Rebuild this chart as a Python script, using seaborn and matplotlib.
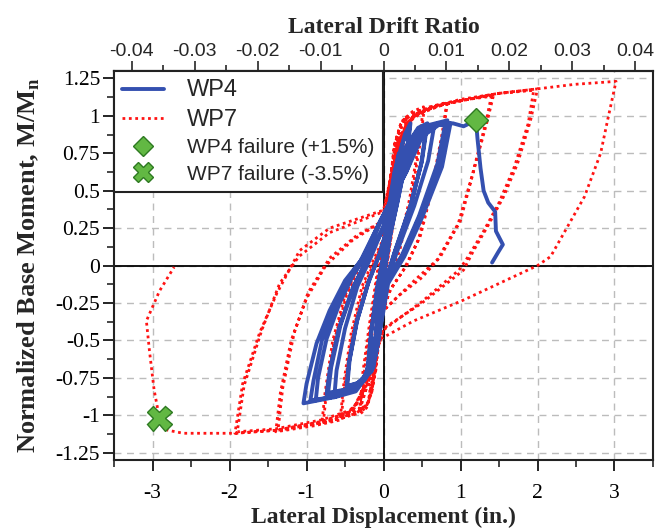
import matplotlib
matplotlib.use('Agg')
import pandas as pd
import matplotlib.pyplot as plt
import seaborn as sns
from matplotlib.lines import Line2D
from matplotlib.ticker import MultipleLocator

# eixos
disp_ticks = [-3, -2, -1, 0, 1, 2, 3]
moment_ticks = [-1.25, -1, -0.75, -0.5, -0.25, 0, 0.25, 0.5, 0.75, 1, 1.25]
drift_ticks = [-0.04, -0.03, -0.02, -0.01, 0, 0.01, 0.02, 0.03, 0.04]
wall_height = 81.75  # in. (drift = disp / altura)

# WP4 - laco histeretico (deslocamento em in., momento normalizado)
wp4_disp = [
    0.0, 0.05, 0.1, 0.06, 0.0, -0.05, -0.1, -0.06, 0.0,
    0.07, 0.14, 0.2, 0.16, 0.08, 0.0, -0.07, -0.14, -0.2, -0.16, -0.08, 0.0,
    0.08, 0.15, 0.21, 0.16, 0.08, 0.0, -0.08, -0.15, -0.21, -0.16, -0.08, 0.0,
    0.08, 0.18, 0.28, 0.35, 0.3, 0.18, 0.05, -0.02, -0.07, -0.18, -0.32, -0.48, -0.45, -0.35, -0.2, -0.05, 0.05,
    0.14, 0.25, 0.34, 0.29, 0.17, 0.04, -0.03, -0.08, -0.2, -0.33, -0.47, -0.44, -0.34, -0.19, -0.04, 0.05,
    0.15, 0.3, 0.45, 0.57, 0.5, 0.35, 0.15, 0.0, -0.06, -0.15, -0.4, -0.74, -0.7, -0.58, -0.4, -0.2, 0.0,
    0.15, 0.3, 0.45, 0.56, 0.49, 0.34, 0.14, -0.01, -0.07, -0.16, -0.42, -0.72, -0.68, -0.56, -0.38, -0.19, 0.0,
    0.17, 0.33, 0.5, 0.66, 0.58, 0.4, 0.18, 0.02, -0.05, -0.13, -0.36, -0.64, -0.61, -0.5, -0.34, -0.16, 0.0,
    0.2, 0.4, 0.6, 0.83, 0.74, 0.48, 0.26, 0.05, -0.02, -0.09, -0.22, -0.39, -0.65, -1.04,
    -1.0, -0.87, -0.7, -0.5, -0.3, -0.04,
    0.3, 0.48, 0.7, 0.87, 0.76, 0.5, 0.27, 0.06, -0.02, -0.1, -0.24, -0.42, -0.68, -0.95,
    -0.91, -0.8, -0.62, -0.45, -0.26, -0.04,
    0.28, 0.45, 0.65, 0.8, 0.7, 0.46, 0.24, 0.04, -0.03, -0.11, -0.26, -0.45, -0.7, -0.88,
    -0.85, -0.74, -0.57, -0.4, -0.22, -0.03,
    0.3, 0.5, 0.72, 0.9, 1.04, 1.2,
    1.22, 1.26, 1.3, 1.36, 1.45, 1.46, 1.55, 1.49, 1.41,
]
wp4_moment = [
    0.0, 0.25, 0.45, 0.25, 0.0, -0.25, -0.45, -0.25, 0.0,
    0.4, 0.62, 0.75, 0.5, 0.2, -0.08, -0.38, -0.6, -0.7, -0.45, -0.15, 0.06,
    0.4, 0.63, 0.74, 0.48, 0.18, -0.09, -0.4, -0.6, -0.69, -0.44, -0.14, 0.07,
    0.4, 0.7, 0.88, 0.95, 0.72, 0.42, 0.12, -0.15, -0.45, -0.7, -0.78, -0.81, -0.65, -0.38, -0.12, 0.08, 0.25,
    0.55, 0.82, 0.93, 0.7, 0.4, 0.1, -0.18, -0.47, -0.72, -0.79, -0.8, -0.63, -0.36, -0.1, 0.09, 0.26,
    0.55, 0.8, 0.92, 0.95, 0.7, 0.4, 0.1, -0.15, -0.45, -0.7, -0.82, -0.86, -0.7, -0.42, -0.15, 0.05, 0.25,
    0.55, 0.8, 0.91, 0.94, 0.68, 0.38, 0.08, -0.17, -0.47, -0.71, -0.82, -0.85, -0.68, -0.4, -0.13, 0.06, 0.26,
    0.57, 0.82, 0.92, 0.94, 0.7, 0.4, 0.1, -0.14, -0.42, -0.68, -0.84, -0.88, -0.7, -0.42, -0.14, 0.06, 0.26,
    0.6, 0.85, 0.94, 0.97, 0.68, 0.34, 0.08, -0.1, -0.34, -0.57, -0.74, -0.83, -0.88, -0.92,
    -0.79, -0.52, -0.3, -0.1, 0.03, 0.3,
    0.63, 0.88, 0.95, 0.95, 0.66, 0.32, 0.06, -0.12, -0.36, -0.6, -0.76, -0.84, -0.88, -0.9,
    -0.77, -0.5, -0.26, -0.08, 0.06, 0.3,
    0.62, 0.86, 0.94, 0.94, 0.68, 0.33, 0.07, -0.11, -0.35, -0.58, -0.75, -0.84, -0.88, -0.9,
    -0.75, -0.49, -0.25, -0.07, 0.07, 0.3,
    0.63, 0.86, 0.94, 0.95, 0.93, 0.97,
    0.85, 0.65, 0.5, 0.42, 0.36, 0.23, 0.14, 0.09, 0.02,
]

# WP7 - laco histeretico
wp7_disp = [
    0.0, 0.05, 0.1, 0.06, 0.0, -0.04, -0.08, -0.04, 0.0,
    0.06, 0.14, 0.2, 0.15, 0.08, 0.0, -0.06, -0.12, -0.18, -0.14, -0.07, 0.0,
    0.06, 0.14, 0.22, 0.3, 0.25, 0.16, 0.06, 0.0, -0.06, -0.14, -0.22, -0.3, -0.26, -0.17, -0.07, 0.0,
    0.07, 0.15, 0.22, 0.3, 0.24, 0.15, 0.05, -0.01, -0.07, -0.15, -0.23, -0.31, -0.27, -0.18, -0.08, 0.0,
    0.07, 0.15, 0.25, 0.38, 0.52, 0.46, 0.34, 0.2, 0.06, -0.02, -0.1, -0.2, -0.35, -0.55, -0.5, -0.4, -0.26, -0.1, 0.0,
    0.08, 0.17, 0.27, 0.4, 0.53, 0.47, 0.35, 0.21, 0.06, -0.03, -0.11, -0.21, -0.36, -0.56, -0.51, -0.42, -0.28, -0.12, 0.0,
    0.08, 0.18, 0.35, 0.6, 0.83, 0.78, 0.65, 0.48, 0.3, 0.1, -0.05, -0.15, -0.3, -0.55, -0.8,
    -0.76, -0.66, -0.5, -0.3, -0.1, 0.0,
    0.06, 0.15, 0.3, 0.55, 0.82, 0.76, 0.62, 0.45, 0.27, 0.08, -0.07, -0.17, -0.32, -0.55, -0.78,
    -0.74, -0.64, -0.48, -0.28, -0.1, 0.0,
    0.1, 0.22, 0.4, 0.8, 1.1, 1.43, 1.35, 1.17, 1.0, 0.74, 0.5, 0.2, 0.0, -0.15, -0.3, -0.55, -0.9, -1.4,
    -1.34, -1.2, -1.0, -0.75, -0.4, 0.0,
    0.1, 0.22, 0.4, 0.8, 1.1, 1.4, 1.33, 1.15, 0.97, 0.7, 0.4, 0.0, -0.15, -0.3, -0.55, -0.9, -1.37,
    -1.31, -1.16, -0.98, -0.7, -0.35, 0.0,
    0.12, 0.26, 0.4, 0.7, 1.0, 1.5, 2.0, 1.91, 1.74, 1.56, 1.35, 1.17, 1.04, 0.5, 0.0, -0.2, -0.4, -0.8, -1.4, -1.93,
    -1.83, -1.61, -1.39, -1.09, -0.7, 0.0,
    0.12, 0.26, 0.4, 0.7, 1.0, 1.5, 1.95, 1.88, 1.7, 1.5, 1.3, 1.1, 0.98, 0.5, 0.0, -0.2, -0.4, -0.8, -1.4, -1.9,
    -1.81, -1.58, -1.35, -1.1, -0.7, 0.0,
    0.12, 0.26, 0.4, 0.7, 1.0, 1.5, 2.0, 2.48, 3.02, 2.91, 2.82, 2.61, 2.17, 2.0, 1.04, 0.39, -0.04,
    -0.2, -0.4, -0.8, -1.4, -1.93, -2.3, -2.6, -2.8, -2.91, -2.98, -3.04, -3.08, -2.91, -2.72,
]
wp7_moment = [
    0.0, 0.3, 0.55, 0.3, 0.02, -0.3, -0.55, -0.3, 0.0,
    0.4, 0.7, 0.85, 0.6, 0.25, -0.05, -0.4, -0.7, -0.85, -0.6, -0.25, 0.05,
    0.45, 0.8, 0.94, 1.0, 0.78, 0.4, 0.05, -0.12, -0.5, -0.82, -0.95, -0.99, -0.75, -0.4, -0.05, 0.1,
    0.5, 0.82, 0.94, 0.99, 0.75, 0.38, 0.03, -0.15, -0.52, -0.84, -0.95, -0.98, -0.72, -0.38, -0.04, 0.12,
    0.5, 0.82, 0.97, 1.03, 1.06, 0.82, 0.45, 0.12, -0.08, -0.3, -0.7, -0.92, -0.99, -1.02, -0.78, -0.45, -0.15, 0.05, 0.17,
    0.5, 0.83, 0.97, 1.02, 1.05, 0.8, 0.42, 0.1, -0.1, -0.33, -0.72, -0.92, -0.99, -1.01, -0.76, -0.45, -0.14, 0.05, 0.18,
    0.5, 0.82, 0.98, 1.06, 1.09, 0.9, 0.55, 0.2, 0.0, -0.15, -0.35, -0.7, -0.95, -1.02, -1.05,
    -0.85, -0.5, -0.2, 0.02, 0.15, 0.22,
    0.42, 0.75, 0.95, 1.04, 1.08, 0.88, 0.5, 0.17, -0.02, -0.17, -0.4, -0.74, -0.96, -1.02, -1.04,
    -0.84, -0.5, -0.2, 0.03, 0.16, 0.24,
    0.55, 0.85, 1.0, 1.08, 1.11, 1.14, 0.97, 0.63, 0.3, 0.06, -0.08, -0.2, -0.3, -0.6, -0.9, -1.03, -1.07, -1.11,
    -0.85, -0.5, -0.22, 0.0, 0.17, 0.3,
    0.6, 0.87, 1.01, 1.08, 1.11, 1.13, 0.96, 0.6, 0.28, 0.04, -0.1, -0.3, -0.62, -0.9, -1.02, -1.06, -1.1,
    -0.82, -0.45, -0.18, 0.05, 0.2, 0.3,
    0.6, 0.86, 1.0, 1.07, 1.1, 1.15, 1.18, 0.97, 0.68, 0.46, 0.26, 0.1, -0.03, -0.25, -0.42, -0.75, -0.97, -1.04, -1.1, -1.12,
    -0.79, -0.45, -0.19, 0.1, 0.25, 0.37,
    0.65, 0.88, 1.01, 1.07, 1.1, 1.15, 1.17, 0.95, 0.66, 0.42, 0.23, 0.06, -0.03, -0.24, -0.43, -0.76, -0.96, -1.03, -1.09, -1.11,
    -0.8, -0.43, -0.12, 0.06, 0.22, 0.36,
    0.65, 0.88, 1.02, 1.07, 1.11, 1.15, 1.18, 1.21, 1.23, 0.97, 0.75, 0.46, 0.06, 0.0, -0.23, -0.37, -0.49,
    -0.78, -0.97, -1.05, -1.1, -1.12, -1.12, -1.12, -1.1, -1.02, -0.83, -0.57, -0.37, -0.17, -0.01,
]

wp4_fail_disp, wp4_fail_moment = 1.2, 0.97
wp7_fail_disp, wp7_fail_moment = -2.91, -1.02

blue = '#3450b0'
red = '#ff1414'
green = '#62b843'
dark_green = '#2e7a22'

sns.set_theme(style='ticks')
plt.rcParams['font.family'] = ['Liberation Serif', 'DejaVu Serif']
plt.rcParams['mathtext.fontset'] = 'custom'
plt.rcParams['mathtext.rm'] = 'Liberation Serif'
plt.rcParams['mathtext.bf'] = 'Liberation Serif:bold'
plt.rcParams['axes.unicode_minus'] = False

df4 = pd.DataFrame({'disp': wp4_disp, 'moment': wp4_moment})
df7 = pd.DataFrame({'disp': wp7_disp, 'moment': wp7_moment})

fig = plt.figure(figsize=(6.67, 5.29), dpi=100)
ax = fig.add_axes([0.171, 0.130, 0.808, 0.736])

sns.lineplot(data=df7, x='disp', y='moment', sort=False, estimator=None, ax=ax,
             color=red, linewidth=2.0, linestyle=(0, (1, 1.3)), zorder=3)
sns.lineplot(data=df4, x='disp', y='moment', sort=False, estimator=None, ax=ax,
             color=blue, linewidth=2.8, zorder=4)

ax.plot([wp4_fail_disp], [wp4_fail_moment], marker='D', markersize=12,
        color=green, markeredgecolor=dark_green, markeredgewidth=1, zorder=6)
ax.plot([wp7_fail_disp], [wp7_fail_moment], marker='X', markersize=18,
        color=green, markeredgecolor=dark_green, markeredgewidth=1, zorder=6)

ax.axhline(0, color='black', lw=1.3, zorder=2)
ax.axvline(0, color='black', lw=1.3, zorder=2)

ax.set_xlim(-3.5, 3.5)
ax.set_ylim(-1.3, 1.3)
ax.set_xticks(disp_ticks)
ax.set_xticklabels([f'{v:g}' for v in disp_ticks])
ax.set_yticks(moment_ticks)
ax.set_yticklabels([f'{v:g}' for v in moment_ticks])
ax.xaxis.set_minor_locator(MultipleLocator(0.5))
ax.yaxis.set_minor_locator(MultipleLocator(0.125))
ax.tick_params(which='major', direction='out', length=8, width=1.2,
               labelsize=15.5, colors='black', pad=9)
ax.tick_params(axis='y', which='major', pad=2)
ax.tick_params(which='minor', direction='out', length=5, width=1.2)
ax.grid(True, which='major', linestyle=(0, (5, 4)), color='#bcbcbc', lw=1)
ax.set_axisbelow(True)
for s in ax.spines.values():
    s.set_color('#222222')
    s.set_linewidth(1.5)

ax.set_xlabel('Lateral Displacement (in.)', fontsize=17, fontweight='bold', labelpad=3)
ax.set_ylabel(r'Normalized Base Moment, M/M$_\mathbf{n}$', fontsize=19,
              fontweight='bold', labelpad=10)

secax = ax.secondary_xaxis('top', functions=(lambda d: d / wall_height,
                                             lambda r: r * wall_height))
secax.set_xticks(drift_ticks)
secax.set_xticklabels([f'{v:g}' for v in drift_ticks],
                      fontfamily='Liberation Sans', fontsize=14)
secax.xaxis.set_minor_locator(MultipleLocator(0.005))
secax.tick_params(which='major', direction='out', length=7, width=1.2, pad=1)
secax.tick_params(which='minor', direction='out', length=4, width=1.2)
secax.spines['top'].set_linewidth(1.5)
secax.set_xlabel('Lateral Drift Ratio', fontsize=17, fontweight='bold', labelpad=7)

handles = [
    Line2D([], [], color=blue, lw=2.8),
    Line2D([], [], color=red, lw=2.0, linestyle=(0, (1, 1.3))),
    Line2D([], [], color=green, marker='D', markersize=10, lw=0,
           markeredgecolor=dark_green),
    Line2D([], [], color=green, marker='X', markersize=14, lw=0,
           markeredgecolor=dark_green),
]
labels = ['WP4', 'WP7', 'WP4 failure (+1.5%)', 'WP7 failure (-3.5%)']
leg = ax.legend(handles, labels, loc='upper left', borderaxespad=0,
                frameon=True, fancybox=False, handlelength=2.0,
                handletextpad=1.1, labelspacing=0.36, borderpad=0.4,
                prop={'family': 'Liberation Sans', 'size': 15})
leg.get_frame().set_edgecolor('#222222')
leg.get_frame().set_linewidth(1.5)
leg.get_frame().set_alpha(1)
for t in leg.get_texts()[:2]:
    t.set_fontsize(17)

fig.savefig('out.png', dpi=100)
